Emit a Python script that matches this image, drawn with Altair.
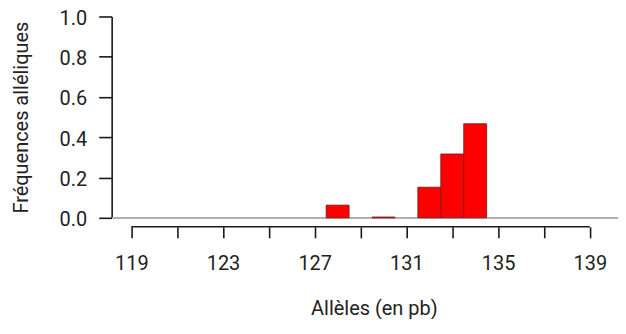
import altair as alt
import pandas as pd

alleles = [119, 120, 121, 122, 123, 124, 125, 126, 127, 128, 129, 130,
           131, 132, 133, 134, 135, 136, 137, 138, 139]
freqs = [0, 0, 0, 0, 0, 0, 0, 0, 0, 0.063, 0, 0.004,
         0, 0.152, 0.317, 0.467, 0, 0, 0, 0, 0]
tick_values = [119, 121, 123, 125, 127, 129, 131, 133, 135, 137, 139]
y_ticks = [0.0, 0.2, 0.4, 0.6, 0.8, 1.0]

df = pd.DataFrame({"allele": alleles, "freq": freqs})
FONT = "Roboto"
W, H = 507, 202
xscale = alt.Scale(domain=[118.187, 140.23], nice=False, zero=False)
yscale = alt.Scale(domain=[0, 1], nice=False)

bars = alt.Chart(df).transform_filter("datum.freq > 0").transform_calculate(
    x0="datum.allele - 0.5", x1="datum.allele + 0.5"
).mark_rect(color="#ff0000", stroke="#7a1515", strokeWidth=0.8).encode(
    x=alt.X("x0:Q", scale=xscale, axis=alt.Axis(
        title="Allèles (en pb)", values=tick_values, domain=False, grid=False,
        offset=9, tickSize=11, tickWidth=1.6, tickColor="#1a1a1a",
        labelExpr="datum.value % 4 == 3 ? datum.label : ''",
        labelFont=FONT, labelFontSize=20, labelColor="#222", labelPadding=16,
        titleFont=FONT, titleFontSize=20, titleFontWeight="normal", titleColor="#222",
        titleX=262, titleY=88, titleBaseline="alphabetic", titleAlign="center")),
    x2="x1:Q",
    y=alt.Y("freq:Q", scale=yscale, axis=alt.Axis(
        title="Fréquences alléliques", values=y_ticks, format=".1f", grid=False,
        offset=1, domainColor="#1a1a1a", domainWidth=1.6, tickSize=13, tickWidth=1.6,
        tickColor="#1a1a1a", labelFont=FONT, labelFontSize=20, labelColor="#222",
        labelPadding=12, labelBaseline="alphabetic", labelOffset=8,
        titleFont=FONT, titleFontSize=20, titleFontWeight="normal",
        titleColor="#222", titleAngle=270, titleX=-84, titleY=101,
        titleBaseline="alphabetic", titleAlign="center")),
    y2=alt.datum(0),
)

base = alt.Chart(df).mark_rule(color="#b0b0b0", strokeWidth=1).encode(
    x=alt.value(0), x2=alt.value(W), y=alt.datum(0, scale=yscale)
)

xdomain = alt.Chart(pd.DataFrame({"a": [tick_values[0]], "b": [tick_values[-1]]})).mark_rule(
    color="#1a1a1a", strokeWidth=1.6
).encode(x=alt.X("a:Q", scale=xscale), x2="b:Q", y=alt.value(H + 9))

chart = alt.layer(base, bars, xdomain).properties(
    width=W, height=H,
    autosize=alt.AutoSizeParams(type="none"),
    padding={"left": 105, "top": 8, "right": 0, "bottom": 101},
).configure_view(stroke=None)

chart.save("out.html", embed_options={"renderer": "svg", "actions": False})
